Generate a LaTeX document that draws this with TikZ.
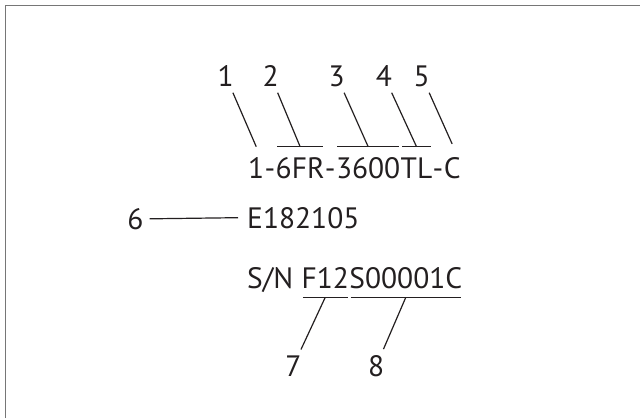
\documentclass[tikz,border=0pt]{standalone}
\usepackage{fontspec}
\setmainfont{PT Sans}
\usetikzlibrary{calc}
\definecolor{SNInk}{RGB}{35,31,32}
\definecolor{SNFrame}{RGB}{118,118,118}
\tikzset{
  code/.style={inner sep=0pt,anchor=base west,text=SNInk,font=\fontsize{29.5}{32}\selectfont},
  callout/.style={inner sep=6pt,text=SNInk,font=\fontsize{29.5}{32}\selectfont},
  lead/.style={draw=SNInk,line width=1.2pt},
  bar/.style={lead,shorten <=1.5pt,shorten >=1.5pt},
}

\begin{document}
\begin{tikzpicture}[x=1pt,y=1pt]
      \useasboundingbox (0,0) rectangle (640,-418);
      \draw[SNFrame,line width=1.6pt] (5.3,-418) -- (5.3,-5.5) -- (640,-5.5);
      % model number
      \node[code] (c1) at (248,-178) {1};
      \node[code] (h1) at (c1.base east) {-};
      \node[code] (c2) at (h1.base east) {6FR};
      \node[code] (h2) at (c2.base east) {-};
      \node[code] (c3) at (h2.base east) {3600};
      \node[code] (c4) at (c3.base east) {TL};
      \node[code] (h3) at (c4.base east) {-};
      \node[code] (c5) at (h3.base east) {C};
      \coordinate (barA) at (0,-146.7);
      \draw[bar] (c2.west |- barA) -- (c2.east |- barA);
      \draw[bar] (c3.west |- barA) -- (c3.east |- barA);
      \draw[bar] (c4.west |- barA) -- (c4.east |- barA);
      \node[callout] (n1) at (225.7,-76) {1};
      \node[callout] (n2) at (270.7,-76) {2};
      \node[callout] (n3) at (336.7,-76) {3};
      \node[callout] (n4) at (384,-76) {4};
      \node[callout] (n5) at (421.7,-76) {5};
      \draw[lead] (n1) -- (c1.center |- barA);
      \draw[lead] (n2) -- (c2.center |- barA);
      \draw[lead] (n3) -- (c3.center |- barA);
      \draw[lead] (n4) -- (c4.center |- barA);
      \draw[lead] (n5) -- (c5.center |- 0,-144);
      % certificate
      \node[code] (reg) at (247,-228) {E182105};
      \node[callout] (n6) at (135.5,-219) {6};
      \draw[lead] (n6) -- ([xshift=-9pt]reg.west);
      % serial number
      \node[code] (sn) at (247,-288) {S/N};
      \node[code] (lot) at ([xshift=8pt]sn.base east) {F12};
      \node[code] (ser) at (lot.base east) {S00001C};
      \coordinate (barB) at (0,-297.3);
      \draw[bar] (lot.west |- barB) -- (lot.east |- barB);
      \draw[bar] (ser.west |- barB) -- (ser.east |- barB);
      \node[callout] (n7) at (293.3,-366) {7};
      \node[callout] (n8) at (376.2,-366) {8};
      \draw[lead] (lot.center |- barB) -- (n7);
      \draw[lead] (ser.center |- barB) -- (n8);
\end{tikzpicture}
\end{document}
